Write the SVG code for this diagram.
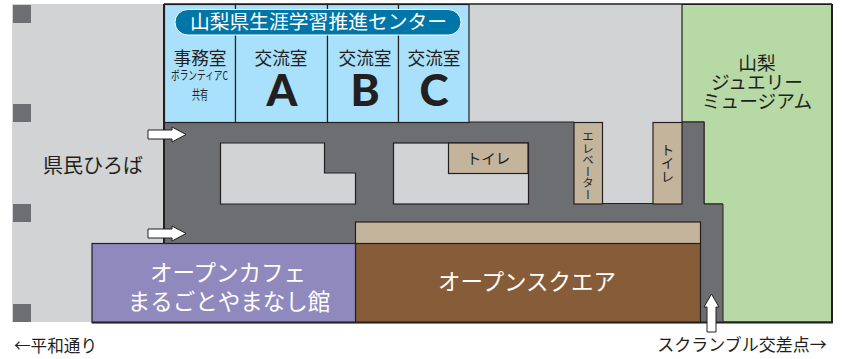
<svg xmlns="http://www.w3.org/2000/svg" width="844" height="359" viewBox="0 0 844 359">
<style>
text{font-family:"Noto Sans CJK JP","Noto Sans",sans-serif;text-anchor:middle;fill:#231f20}
.w{fill:#fff}
.s{stroke:#231f20;stroke-width:1.2}
.pil{fill:#6d6e71}
.tan{fill:#c4b49b}
.blue{fill:#a9e0fb}
.gray{fill:#d1d3d4}
.arrow{fill:#fff;stroke:#231f20;stroke-width:1}
.big{font-family:"Lato","Liberation Sans",sans-serif;font-weight:900;font-size:44px}
.t17{font-size:17.700px}
.t18{font-size:18.700px}
.t22{font-size:22.500px}
.v{writing-mode:vertical-rl}
</style>
<rect width="844" height="359" fill="#fff"/>
<g id="plaza">
<rect class="gray" x="12" y="4" width="152" height="318"/>
<rect class="pil" x="13" y="5" width="18" height="18"/>
<rect class="pil" x="13" y="104" width="18" height="18"/>
<rect class="pil" x="13" y="204" width="18" height="18"/>
<rect class="pil" x="13" y="304" width="18" height="18"/>
<text x="93" y="173" font-size="20">県民ひろば</text>
</g>
<g id="upper-gray"><rect class="gray" x="469" y="4" width="213" height="119"/></g>
<g id="museum">
<path d="M682 4.500H832V322H722V204H704V122H682Z" fill="#b7d9a5" stroke="#231f20" stroke-width="1.200"/>
<path d="M832 4V322.500H722" fill="none" stroke="#231f20" stroke-width="2"/>
<text class="t18" x="757" y="70">山梨</text>
<text class="t18" x="757" y="89">ジュエリー</text>
<text class="t18" x="757" y="108">ミュージアム</text>
</g>
<g id="corridor">
<path class="pil" d="M164 122H704V204H723V322H164Z"/>
<path d="M704 122V204H723V322" fill="none" stroke="#231f20" stroke-width="1"/>
<path d="M164 4V244" fill="none" stroke="#231f20" stroke-width="2"/>
<path d="M164 122H574M682 122H704" fill="none" stroke="#231f20" stroke-width="1"/>
<path d="M164 4H832" fill="none" stroke="#231f20" stroke-width="1.500"/>
</g>
<g id="void-1"><path class="gray s" d="M220.500 143H324.500V173H355.500V204H220.500Z"/></g>
<g id="void-2"><rect class="gray s" x="393.500" y="143" width="135" height="61"/></g>
<g id="void-3"><path class="gray" d="M602 121H653V203.500H602Z"/><path d="M602 203.500H653" stroke="#231f20" stroke-width="1.200"/></g>
<g id="room-office">
<rect class="blue s" x="164.500" y="4.500" width="71" height="118"/>
<text class="t17" x="200" y="65">事務室</text>
<text x="199.500" y="80" font-size="12" textLength="57" lengthAdjust="spacingAndGlyphs">ボランティアC</text>
<text x="200" y="99" font-size="13" textLength="16" lengthAdjust="spacingAndGlyphs">共有</text>
</g>
<g id="room-a">
<rect class="blue s" x="235.500" y="4.500" width="92" height="118"/>
<text class="t17" x="281" y="65">交流室</text>
<text class="big" x="282" y="106">A</text>
</g>
<g id="room-b">
<rect class="blue s" x="327.500" y="4.500" width="71" height="118"/>
<text class="t17" x="365" y="65">交流室</text>
<text class="big" x="365" y="106">B</text>
</g>
<g id="room-c">
<rect class="blue s" x="398.500" y="4.500" width="70.500" height="118"/>
<text class="t17" x="434" y="65">交流室</text>
<text class="big" x="434" y="106">C</text>
</g>
<g id="center-title">
<rect x="175" y="9.500" width="286" height="25.500" rx="12.700" fill="#0076a8" stroke="#fff" stroke-width="1"/>
<text class="w" x="318.500" y="29" font-size="19.800">山梨県生涯学習推進センター</text>
</g>
<g id="toilet-1">
<rect class="tan s" x="448.500" y="143" width="79.500" height="30.500"/>
<text x="488.500" y="164" font-size="14.500">トイレ</text>
</g>
<g id="elevator">
<rect class="tan s" x="574" y="122.500" width="28.500" height="81.500"/>
<text class="v" x="588" y="165.500" font-size="11.500">エレベーター</text>
</g>
<g id="toilet-2">
<rect class="tan s" x="653" y="122.500" width="29" height="81.500"/>
<text class="v" x="667.500" y="163" font-size="13.500">トイレ</text>
</g>
<g id="stage">
<rect class="tan s" x="355.500" y="222" width="345" height="22"/>
</g>
<g id="open-square">
<rect class="s" x="355.500" y="243.500" width="345" height="79" fill="#875c38"/>
<text class="w t22" x="527" y="290">オープンスクエア</text>
</g>
<g id="cafe">
<rect class="s" x="92" y="243.500" width="263.500" height="79" fill="#9089bd"/>
<text class="w t22" x="228" y="281">オープンカフェ</text>
<text class="w t22" x="229" y="310">まるごとやまなし館</text>
</g>
<path d="M92 322.500H722" stroke="#231f20" stroke-width="2" fill="none"/>
<g id="connectors">
<path class="arrow" d="M148 130H172V127L186 134.500L172 142V139H148Z"/>
<path class="arrow" d="M148 229H172V226L186 233.500L172 241V238H148Z"/>
<path class="arrow" d="M707 332V307H704L711.500 294L719 307H716V332Z"/>
</g>
<g id="labels">
<text x="55.500" y="352" font-size="16.600">←平和通り</text>
<text x="742" y="351" font-size="17">スクランブル交差点→</text>
</g>
</svg>
